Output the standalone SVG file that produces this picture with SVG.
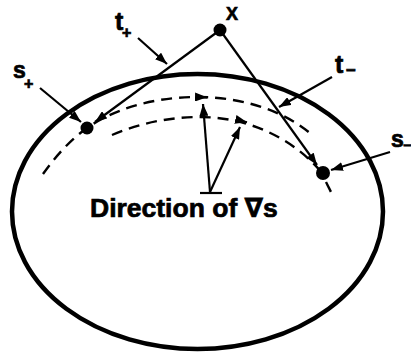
<svg xmlns="http://www.w3.org/2000/svg" width="411" height="354" viewBox="0 0 411 354">
<style>
.lbl{font-family:"Liberation Sans","DejaVu Sans",Arial,sans-serif;font-weight:bold;fill:#000;stroke:#000;stroke-width:0.7}
.conn{fill:none;stroke:#000;stroke-width:2.2}
.dash{fill:none;stroke:#000;stroke-width:2.4;stroke-dasharray:11 7}
.dot{fill:#000}
</style>
<defs>
<marker id="ah" markerUnits="userSpaceOnUse" markerWidth="13" markerHeight="9" refX="12" refY="4.5" orient="auto">
<path d="M0,0 L12,4.5 L0,9 Z" fill="#000"/>
</marker>
</defs>
<rect width="411" height="354" fill="#fff"/>
<g id="surface">
<ellipse cx="197.5" cy="211.5" rx="185.5" ry="137.5" fill="none" stroke="#000" stroke-width="4.5"/>
<path class="dash" d="M43,174 C55,157 70,140 87,128 C111,111 150,97 197,97 C245,97 285,112 311,134"/>
<path class="dash" d="M112,135 C140,123 170,117 200,117 C250,117 295,140 322,173"/>
<path class="dash" d="M326,182 L333,196"/>
</g>
<g id="connectors">
<path class="conn" d="M220,30 L95,122" marker-end="url(#ah)"/>
<path class="conn" d="M220,30 L317,165" marker-end="url(#ah)"/>
<path class="conn" d="M138,38 L167,64" marker-end="url(#ah)"/>
<path class="conn" d="M40,88 L81,122" marker-end="url(#ah)"/>
<path class="conn" d="M332,77 L279,107" marker-end="url(#ah)"/>
<path class="conn" d="M390,152 L331,170" marker-end="url(#ah)"/>
<path class="conn" d="M196,97 L207,97.3" marker-end="url(#ah)"/>
<path class="conn" d="M236,119.5 L247,122.3" marker-end="url(#ah)"/>
<path class="conn" d="M210,192 L203,104" marker-end="url(#ah)"/>
<path class="conn" d="M210,192 L240,127" marker-end="url(#ah)"/>
<path class="conn" d="M200,193 L222,193"/>
</g>
<g id="node-X">
<circle class="dot" cx="220" cy="30" r="6.5"/>
<text class="lbl" x="226" y="20" font-size="18">X</text>
</g>
<g id="node-s-plus">
<circle class="dot" cx="87" cy="128" r="6.5"/>
<text class="lbl" x="13" y="78" font-size="23">s<tspan x="24" y="88.5" font-size="16">+</tspan></text>
</g>
<g id="node-s-minus">
<circle class="dot" cx="323" cy="173" r="7"/>
<text class="lbl" x="391" y="147" font-size="23">s<tspan x="403" y="150" font-size="14">−</tspan></text>
</g>
<g id="label-t-plus">
<text class="lbl" x="115" y="30" font-size="25">t<tspan x="122" y="38" font-size="16">+</tspan></text>
</g>
<g id="label-t-minus">
<text class="lbl" x="335" y="73" font-size="25">t<tspan x="346" y="76" font-size="17">−</tspan></text>
</g>
<g id="label-grad">
<text class="lbl" x="90" y="217" font-size="26.5">Direction of ∇s</text>
</g>
</svg>
